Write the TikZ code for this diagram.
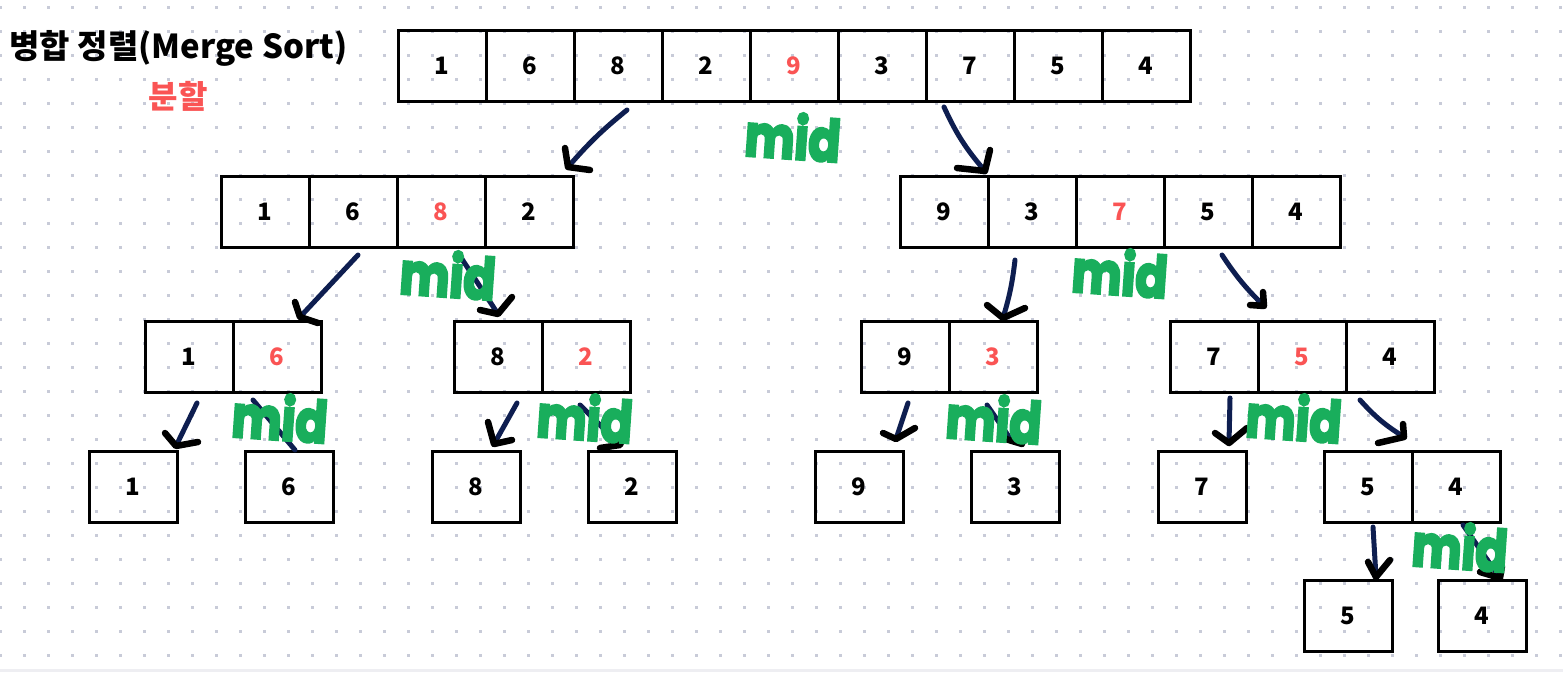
\documentclass[tikz,border=0pt]{standalone}
\usepackage{fontspec}
\setmainfont{Noto Sans CJK KR}
\newfontfamily\midfont{Poppins}[BoldFeatures={FakeBold=5}]
\definecolor{redt}{RGB}{250,84,84}
\definecolor{greenm}{RGB}{25,174,92}
\definecolor{navy}{RGB}{14,30,80}
\definecolor{dotc}{RGB}{200,203,216}
\definecolor{stripc}{RGB}{238,238,242}
\newcommand\handarr[6]{%
  \coordinate (#1-s) at #2; \coordinate (#1-t) at #3;
  \draw[shaft] (#1-s) to[bend left=#6] (#1-t);
  \draw[hd] #4 -- (#1-t) -- #5;}
\begin{document}
\begin{tikzpicture}[x=1pt,y=-1pt,
  cell/.style={draw=black,line width=3pt,minimum width=88pt,minimum height=71pt,inner sep=0pt,
    font=\bfseries\fontsize{24}{28}\selectfont},
  rcell/.style={cell,text=redt},
  shaft/.style={draw=navy,line width=5pt,line cap=round,line join=round},
  hd/.style={draw=black,line width=6.5pt,line cap=round,line join=round},
  midtxt/.style={text=greenm,font=\midfont\bfseries\fontsize{48}{56}\selectfont,inner sep=0pt,rotate=-4,xscale=0.98,yscale=1.2}]
\useasboundingbox (0,0) rectangle (1563,672);
\fill[white] (0,0) rectangle (1563,672);
\fill[stripc] (0,669) rectangle (1563,672);
\foreach \i in {0,...,65}{\foreach \j in {0,...,27}{
  \fill[dotc] ({0.5+24*\i-1.2},{7.5+24*\j-1.2}) rectangle ++(2.4,2.4);}}
% title
\node[font=\bfseries\fontsize{33}{38}\selectfont,inner sep=0pt] (title) at (178.5,48) {병합 정렬(Merge Sort)};
\node[font=\bfseries\fontsize{32}{36}\selectfont,text=redt,inner sep=0pt] (split) at (178,96) {분할};
% row 1
\foreach \v [count=\k] in {1,6,8,2,9,3,7,5,4}{
  \ifnum\k=5 \node[rcell] (t\k) at ({442+88*(\k-1)},65.5) {\v};
  \else \node[cell] (t\k) at ({442+88*(\k-1)},65.5) {\v}; \fi}
% row 2
\node[cell] (l1) at (265,211.5) {1};
\node[cell] (l2) at (353,211.5) {6};
\node[rcell] (l3) at (441,211.5) {8};
\node[cell] (l4) at (529,211.5) {2};
\node[cell] (r1) at (944,211.5) {9};
\node[cell] (r2) at (1032,211.5) {3};
\node[rcell] (r3) at (1120,211.5) {7};
\node[cell] (r4) at (1208,211.5) {5};
\node[cell] (r5) at (1296,211.5) {4};
% row 3
\node[cell] (a1) at (189,356.5) {1};
\node[rcell] (a2) at (277,356.5) {6};
\node[cell] (b1) at (498,356.5) {8};
\node[rcell] (b2) at (586,356.5) {2};
\node[cell] (c1) at (905,356.5) {9};
\node[rcell] (c2) at (993,356.5) {3};
\node[cell] (d1) at (1214,356.5) {7};
\node[rcell] (d2) at (1302,356.5) {5};
\node[cell] (d3) at (1390,356.5) {4};
% row 4
\node[cell] (e1) at (133,486.5) {1};
\node[cell] (e2) at (289,486.5) {6};
\node[cell] (e3) at (476,486.5) {8};
\node[cell] (e4) at (632,486.5) {2};
\node[cell] (e5) at (859,486.5) {9};
\node[cell] (e6) at (1015,486.5) {3};
\node[cell] (e7) at (1202,486.5) {7};
\node[cell] (e8) at (1368,486.5) {5};
\node[cell] (e9) at (1456,486.5) {4};
% row 5
\node[cell] (f1) at (1348,615.5) {5};
\node[cell] (f2) at (1482,615.5) {4};
% arrows
\handarr{A1}{(627,110)}{(568,167)}{(565,148)}{(590,170)}{-5}
\handarr{A2}{(944,107)}{(985,171)}{(990,150)}{(957,168)}{-8}
\handarr{A3}{(358,255)}{(300,317)}{(295,302)}{(318,323)}{0}
\handarr{A4}{(458,253)}{(498,314)}{(512,297)}{(480,310)}{0}
\handarr{A5}{(197,403)}{(176,446)}{(165,433)}{(198,442)}{0}
\coordinate (A6-s) at (253,400); \coordinate (A6-t) at (295,450);
\draw[shaft] (A6-s) -- (A6-t);
\handarr{A7}{(517,403)}{(494,444)}{(488,422)}{(512,440)}{0}
\handarr{A8}{(580,405)}{(620,445)}{(600,448)}{(623,437)}{0}
\handarr{A9}{(1015,260)}{(1003,318)}{(987,305)}{(1025,308)}{5}
\handarr{A10}{(1222,255)}{(1264,306)}{(1263,292)}{(1250,305)}{-6}
\handarr{A11}{(908,403)}{(896,439)}{(883,433)}{(915,428)}{0}
\handarr{A12}{(987,405)}{(1012,441)}{(1003,438)}{(1022,444)}{0}
\handarr{A13}{(1230,398)}{(1229,443)}{(1215,433)}{(1247,428)}{0}
\handarr{A14}{(1360,400)}{(1404,437)}{(1403,424)}{(1378,443)}{-8}
\handarr{A15}{(1373,527)}{(1376,577)}{(1368,562)}{(1390,560)}{0}
\handarr{A16}{(1463,525)}{(1500,578)}{(1480,572)}{(1502,566)}{0}
% mid labels
\node[midtxt] (m1) at (793,136) {mid};
\node[midtxt] (m2) at (448,274) {mid};
\node[midtxt] (m3) at (1120,272) {mid};
\node[midtxt] (m4) at (280,417) {mid};
\node[midtxt] (m5) at (585,417) {mid};
\node[midtxt] (m6) at (994,418) {mid};
\node[midtxt] (m7) at (1294,417) {mid};
\node[midtxt] (m8) at (1460,546) {mid};
\end{tikzpicture}
\end{document}
